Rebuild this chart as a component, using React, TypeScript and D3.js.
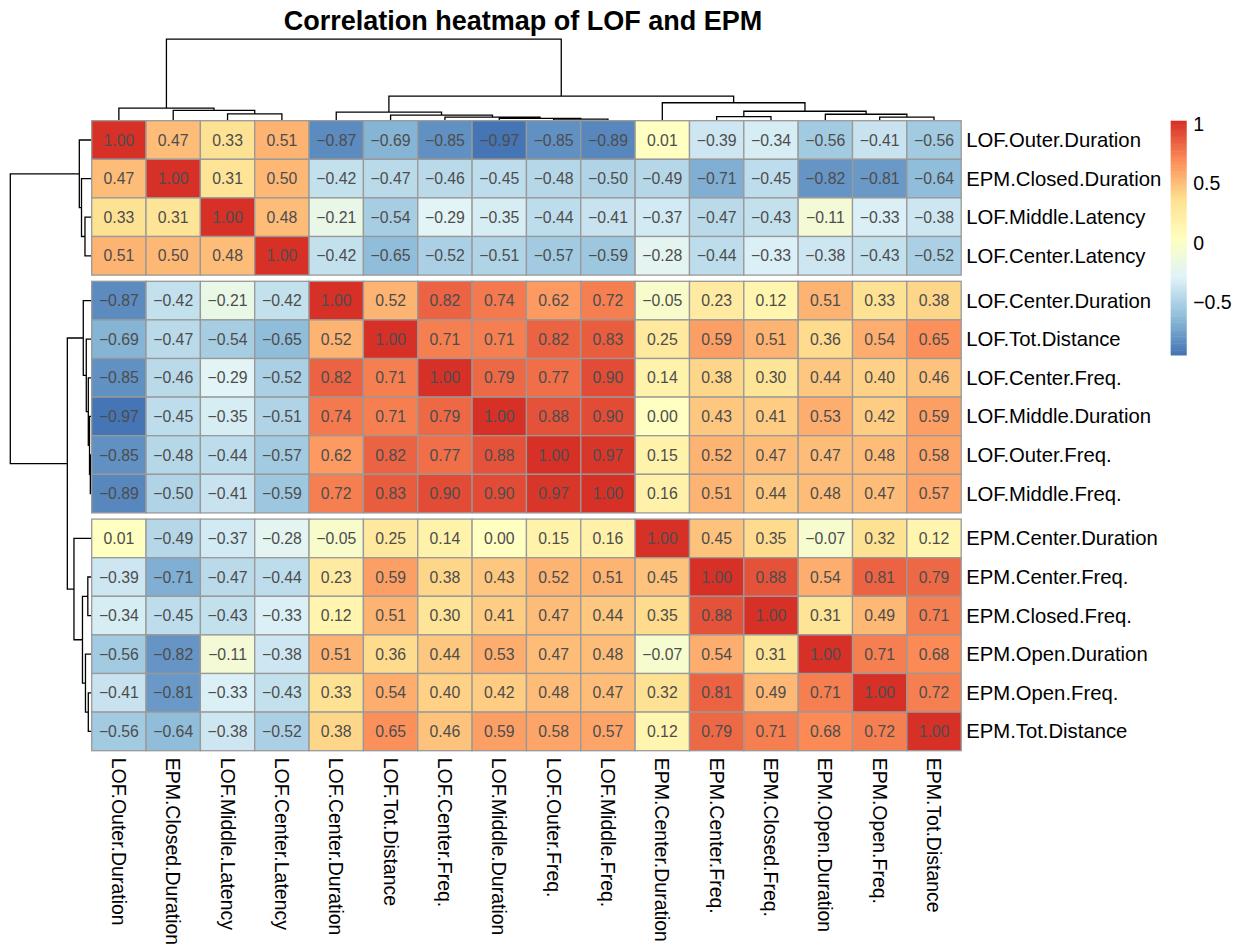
import React from "react";
import * as d3 from "d3";

// ---------- data ----------
const labels = [
  "LOF.Outer.Duration", "EPM.Closed.Duration", "LOF.Middle.Latency", "LOF.Center.Latency",
  "LOF.Center.Duration", "LOF.Tot.Distance", "LOF.Center.Freq.", "LOF.Middle.Duration",
  "LOF.Outer.Freq.", "LOF.Middle.Freq.", "EPM.Center.Duration", "EPM.Center.Freq.",
  "EPM.Closed.Freq.", "EPM.Open.Duration", "EPM.Open.Freq.", "EPM.Tot.Distance",
];

const corr = [
  [1.00, 0.47, 0.33, 0.51, -0.87, -0.69, -0.85, -0.97, -0.85, -0.89, 0.01, -0.39, -0.34, -0.56, -0.41, -0.56],
  [0.47, 1.00, 0.31, 0.50, -0.42, -0.47, -0.46, -0.45, -0.48, -0.50, -0.49, -0.71, -0.45, -0.82, -0.81, -0.64],
  [0.33, 0.31, 1.00, 0.48, -0.21, -0.54, -0.29, -0.35, -0.44, -0.41, -0.37, -0.47, -0.43, -0.11, -0.33, -0.38],
  [0.51, 0.50, 0.48, 1.00, -0.42, -0.65, -0.52, -0.51, -0.57, -0.59, -0.28, -0.44, -0.33, -0.38, -0.43, -0.52],
  [-0.87, -0.42, -0.21, -0.42, 1.00, 0.52, 0.82, 0.74, 0.62, 0.72, -0.05, 0.23, 0.12, 0.51, 0.33, 0.38],
  [-0.69, -0.47, -0.54, -0.65, 0.52, 1.00, 0.71, 0.71, 0.82, 0.83, 0.25, 0.59, 0.51, 0.36, 0.54, 0.65],
  [-0.85, -0.46, -0.29, -0.52, 0.82, 0.71, 1.00, 0.79, 0.77, 0.90, 0.14, 0.38, 0.30, 0.44, 0.40, 0.46],
  [-0.97, -0.45, -0.35, -0.51, 0.74, 0.71, 0.79, 1.00, 0.88, 0.90, 0.00, 0.43, 0.41, 0.53, 0.42, 0.59],
  [-0.85, -0.48, -0.44, -0.57, 0.62, 0.82, 0.77, 0.88, 1.00, 0.97, 0.15, 0.52, 0.47, 0.47, 0.48, 0.58],
  [-0.89, -0.50, -0.41, -0.59, 0.72, 0.83, 0.90, 0.90, 0.97, 1.00, 0.16, 0.51, 0.44, 0.48, 0.47, 0.57],
  [0.01, -0.49, -0.37, -0.28, -0.05, 0.25, 0.14, 0.00, 0.15, 0.16, 1.00, 0.45, 0.35, -0.07, 0.32, 0.12],
  [-0.39, -0.71, -0.47, -0.44, 0.23, 0.59, 0.38, 0.43, 0.52, 0.51, 0.45, 1.00, 0.88, 0.54, 0.81, 0.79],
  [-0.34, -0.45, -0.43, -0.33, 0.12, 0.51, 0.30, 0.41, 0.47, 0.44, 0.35, 0.88, 1.00, 0.31, 0.49, 0.71],
  [-0.56, -0.82, -0.11, -0.38, 0.51, 0.36, 0.44, 0.53, 0.47, 0.48, -0.07, 0.54, 0.31, 1.00, 0.71, 0.68],
  [-0.41, -0.81, -0.33, -0.43, 0.33, 0.54, 0.40, 0.42, 0.48, 0.47, 0.32, 0.81, 0.49, 0.71, 1.00, 0.72],
  [-0.56, -0.64, -0.38, -0.52, 0.38, 0.65, 0.46, 0.59, 0.58, 0.57, 0.12, 0.79, 0.71, 0.68, 0.72, 1.00],
];

// row groups (cutree = 3): gaps after these row counts
const rowGapsAfter = [4, 10];

// hclust-style merge table (R convention): negative = leaf (1-based), positive = earlier merge step
const mergeLeft = [-9, -8, -7, -15, -12, -6, -14, -3, -5, 5, -2, -1, -11, 9, 12];
const mergeRight = [-10, 1, 2, -16, -13, 3, 4, -4, 6, 7, 8, 11, 10, 13, 14];
const mergeHeight = [0.012, 0.022, 0.037, 0.037, 0.043, 0.062, 0.072, 0.078, 0.099, 0.109, 0.121, 0.148, 0.214, 0.296, 1.0];

const legendTicks = [-0.5, 0, 0.5, 1];
const legendTickLabels = ["\u22120.5", "0", "0.5", "1"];
const title = "Correlation heatmap of LOF and EPM";

// ---------- layout ----------
const W = 1249;
const H = 952;
const FONT = "'Liberation Sans', Arial, Helvetica, sans-serif";
const gridLeft = 91.7;
const gridRight = 961.2;
const gridTop = 120.7;
const cellH = 38.6;
const gap = 6.2;
const treeLen = 81;

const n = labels.length;
const fmt = (v: number) => {
  const s = Math.abs(v).toFixed(2);
  return v < 0 && s !== "0.00" ? "\u2212" + s : s;
};

export default function App() {
  const xBand = d3.scaleBand<number>().domain(d3.range(n)).range([gridLeft, gridRight]);
  const yBand = d3.scaleBand<number>().domain(d3.range(n)).range([gridTop, gridTop + n * cellH]);
  const gapsBefore = (i: number) => rowGapsAfter.filter((g) => i >= g).length;
  const rowY = (i: number) => (yBand(i) as number) + gapsBefore(i) * gap;
  const colX = (j: number) => xBand(j) as number;
  const cw = xBand.bandwidth();
  const ch = yBand.bandwidth();
  const gridBottom = rowY(n - 1) + ch;

  const flat = corr.flat();
  const vmin = d3.min(flat) as number;
  const vmax = d3.max(flat) as number;
  const palette = [...d3.schemeRdYlBu[7]].reverse();
  const ramp = d3.piecewise(d3.interpolateRgb, palette);
  const nCol = 100;
  const bin = d3.scaleQuantize<number>().domain([vmin, vmax]).range(d3.range(nCol));
  const colorOf = (v: number) => ramp(bin(v) / (nCol - 1));

  // dendrogram geometry
  const hScale = d3.scaleLinear().domain([0, d3.max(mergeHeight) as number]).range([0, treeLen]);
  const buildTree = (leafPos: (i: number) => number) => {
    const pos: number[] = [];
    const segs: { pa: number; ha: number; pb: number; hb: number; h: number }[] = [];
    const get = (k: number) =>
      k < 0 ? { p: leafPos(-k - 1), h: 0 } : { p: pos[k - 1], h: mergeHeight[k - 1] };
    mergeLeft.forEach((a, i) => {
      const A = get(a);
      const B = get(mergeRight[i]);
      pos[i] = (A.p + B.p) / 2;
      segs.push({ pa: A.p, ha: A.h, pb: B.p, hb: B.h, h: mergeHeight[i] });
    });
    return segs;
  };
  const colSegs = buildTree((i) => colX(i) + cw / 2);
  const rowSegs = buildTree((i) => rowY(i) + ch / 2);
  const colBase = gridTop - 0.6;
  const rowBase = gridLeft - 0.4;
  const colPath = d3.path();
  colSegs.forEach((s) => {
    colPath.moveTo(s.pa, colBase - hScale(s.ha));
    colPath.lineTo(s.pa, colBase - hScale(s.h));
    colPath.lineTo(s.pb, colBase - hScale(s.h));
    colPath.lineTo(s.pb, colBase - hScale(s.hb));
  });
  const rowPath = d3.path();
  rowSegs.forEach((s) => {
    rowPath.moveTo(rowBase - hScale(s.ha), s.pa);
    rowPath.lineTo(rowBase - hScale(s.h), s.pa);
    rowPath.lineTo(rowBase - hScale(s.h), s.pb);
    rowPath.lineTo(rowBase - hScale(s.hb), s.pb);
  });

  // legend
  const legX = 1170.7;
  const legW = 16;
  const legTop = 120.7;
  const legBottom = 355;
  const ly = d3.scaleLinear().domain([vmin, vmax]).range([legBottom, legTop]);
  const step = (vmax - vmin) / nCol;

  return (
    <svg
      width={W}
      height={H}
      viewBox={`0 0 ${W} ${H}`}
      style={{ position: "absolute", left: 0, top: 0, background: "#fff" }}
      fontFamily={FONT}
    >
      <rect x={0} y={0} width={W} height={H} fill="#fff" />
      <text x={523} y={30} textAnchor="middle" fontSize={27} fontWeight="bold" fill="#000">
        {title}
      </text>

      <path d={colPath.toString()} fill="none" stroke="#000" strokeWidth={1.3} />
      <path d={rowPath.toString()} fill="none" stroke="#000" strokeWidth={1.3} />

      <g>
        {corr.map((row, i) =>
          row.map((v, j) => (
            <rect
              key={`c${i}-${j}`}
              x={colX(j)}
              y={rowY(i)}
              width={cw}
              height={ch}
              fill={colorOf(v)}
              stroke="#999999"
              strokeWidth={1.3}
            />
          ))
        )}
      </g>
      <g fontSize={15.8} fill="#4D4D4D" textAnchor="middle">
        {corr.map((row, i) =>
          row.map((v, j) => (
            <text
              key={`t${i}-${j}`}
              x={colX(j) + cw / 2}
              y={rowY(i) + ch / 2}
              dominantBaseline="central"
            >
              {fmt(v)}
            </text>
          ))
        )}
      </g>

      <g fontSize={20.3} fill="#000">
        {labels.map((l, i) => (
          <text key={`r${i}`} x={gridRight + 5} y={rowY(i) + ch / 2} dominantBaseline="central">
            {l}
          </text>
        ))}
      </g>
      <g fontSize={19.5} fill="#000">
        {labels.map((l, j) => {
          const x = colX(j) + cw / 2;
          const y = gridBottom + 7;
          return (
            <text
              key={`cl${j}`}
              transform={`translate(${x},${y}) rotate(90)`}
              dominantBaseline="central"
            >
              {l}
            </text>
          );
        })}
      </g>

      <g>
        {d3.range(nCol).map((k) => (
          <rect
            key={`lg${k}`}
            x={legX}
            y={ly(vmin + (k + 1) * step)}
            width={legW}
            height={ly(vmin + k * step) - ly(vmin + (k + 1) * step) + 0.5}
            fill={ramp(k / (nCol - 1))}
          />
        ))}
      </g>
      <g fontSize={19.5} fill="#000">
        {legendTicks.map((t, i) => (
          <text key={`lt${t}`} x={legX + legW + 6.5} y={ly(t) + 3} dominantBaseline="central">
            {legendTickLabels[i]}
          </text>
        ))}
      </g>
    </svg>
  );
}
